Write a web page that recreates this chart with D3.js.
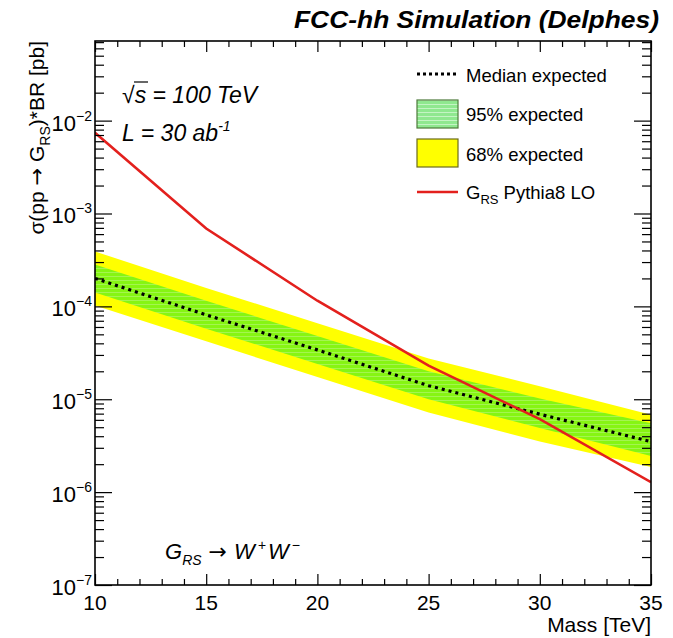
<!DOCTYPE html>
<html>
<head>
<script src="https://d3js.org/d3.v7.min.js"></script>
<style>
  body { margin: 0; background: #fff; }
  text { font-family: "Liberation Sans", Arial, sans-serif; fill: #000; }
</style>
</head>
<body>
<div id="chartContainer"></div>
<script type="text/javascript">
// data (mass in TeV, cross section in pb)
var mass = [10, 15, 20, 25, 30, 35];
var median = [2.0e-4, 8.1e-5, 3.4e-5, 1.4e-5, 6.9e-6, 3.5e-6];
var greenHi = [2.82e-4, 1.15e-4, 4.79e-5, 2.0e-5, 1.02e-5, 5.5e-6];
var greenLo = [1.41e-4, 5.75e-5, 2.40e-5, 1.0e-5, 4.9e-6, 2.45e-6];
var yellowHi = [3.9e-4, 1.58e-4, 6.6e-5, 2.75e-5, 1.38e-5, 6.8e-6];
var yellowLo = [1.02e-4, 4.2e-5, 1.74e-5, 7.2e-6, 3.5e-6, 1.86e-6];
var theory = [7.4e-3, 6.9e-4, 1.15e-4, 2.3e-5, 6.1e-6, 1.28e-6];
var xMajor = [10, 15, 20, 25, 30, 35];
var yExp = [-7, -6, -5, -4, -3, -2];

var W = 673, H = 638;
var pLeft = 95, pRight = 651, pTop = 41, pBottom = 585;

var svg = d3.select("#chartContainer").append("svg")
    .attr("width", W).attr("height", H);

var x = d3.scaleLinear().domain([10, 35]).range([pLeft, pRight]);
var y = d3.scaleLog().domain([1e-7, 0.072]).range([pBottom, pTop]);

// hatch pattern for the inner band
var defs = svg.append("defs");
var pat = defs.append("pattern").attr("id", "hatch")
    .attr("patternUnits", "userSpaceOnUse").attr("width", 6).attr("height", 4);
pat.append("rect").attr("width", 6).attr("height", 4).attr("fill", "#86f513");
pat.append("rect").attr("y", 0).attr("width", 6).attr("height", 1).attr("fill", "#a4f550");
var pat2 = defs.append("pattern").attr("id", "hatchLeg")
    .attr("patternUnits", "userSpaceOnUse").attr("width", 6).attr("height", 4);
pat2.append("rect").attr("width", 6).attr("height", 4).attr("fill", "#8fe88f");
pat2.append("rect").attr("width", 6).attr("height", 1).attr("fill", "#c4f4c4");

defs.append("clipPath").attr("id", "clip").append("rect")
    .attr("x", pLeft).attr("y", pTop).attr("width", pRight - pLeft).attr("height", pBottom - pTop);

var rows = mass.map(function (m, i) {
  return { m: m, med: median[i], gh: greenHi[i], gl: greenLo[i], yh: yellowHi[i], yl: yellowLo[i], th: theory[i] };
});

var plot = svg.append("g").attr("clip-path", "url(#clip)");

plot.append("path").datum(rows)
    .attr("fill", "#ffff00")
    .attr("d", d3.area().x(function (d) { return x(d.m); })
      .y0(function (d) { return y(d.yl); }).y1(function (d) { return y(d.yh); }));
plot.append("path").datum(rows)
    .attr("fill", "url(#hatch)")
    .attr("d", d3.area().x(function (d) { return x(d.m); })
      .y0(function (d) { return y(d.gl); }).y1(function (d) { return y(d.gh); }));
plot.append("path").datum(rows)
    .attr("fill", "none").attr("stroke", "#000").attr("stroke-width", 3.2)
    .attr("stroke-dasharray", "3,4")
    .attr("d", d3.line().x(function (d) { return x(d.m); }).y(function (d) { return y(d.med); }));
plot.append("path").datum(rows)
    .attr("fill", "none").attr("stroke", "#e3201d").attr("stroke-width", 2.6)
    .attr("d", d3.line().x(function (d) { return x(d.m); }).y(function (d) { return y(d.th); }));

// ticks
var xMinor = d3.range(10, 36, 1).filter(function (v) { return v % 5 !== 0; });
var yMinor = [];
yExp.forEach(function (e) {
  for (var k = 2; k <= 9; k++) {
    var v = k * Math.pow(10, e);
    if (v <= 0.072) yMinor.push(v);
  }
});
var yMajVals = yExp.map(function (e) { return Math.pow(10, e); });

function tickAxis(axis, vals, size, tr) {
  var g = svg.append("g").attr("transform", tr)
      .call(axis.tickValues(vals).tickSizeInner(size).tickSizeOuter(0).tickFormat(""));
  g.select(".domain").remove();
  g.selectAll("line").attr("stroke", "#000").attr("stroke-width", 1.2);
  return g;
}
tickAxis(d3.axisBottom(x), xMajor, -11, "translate(0," + pBottom + ")");
tickAxis(d3.axisBottom(x), xMinor, -6, "translate(0," + pBottom + ")");
tickAxis(d3.axisTop(x), xMajor, -11, "translate(0," + pTop + ")");
tickAxis(d3.axisTop(x), xMinor, -6, "translate(0," + pTop + ")");
tickAxis(d3.axisLeft(y), yMajVals, -17, "translate(" + pLeft + ",0)");
tickAxis(d3.axisLeft(y), yMinor, -9, "translate(" + pLeft + ",0)");
tickAxis(d3.axisRight(y), yMajVals, -17, "translate(" + pRight + ",0)");
tickAxis(d3.axisRight(y), yMinor, -9, "translate(" + pRight + ",0)");

// frame
svg.append("rect").attr("x", pLeft).attr("y", pTop)
    .attr("width", pRight - pLeft).attr("height", pBottom - pTop)
    .attr("fill", "none").attr("stroke", "#000").attr("stroke-width", 1.6);

// tick labels
xMajor.forEach(function (v) {
  svg.append("text").attr("x", x(v)).attr("y", pBottom + 25)
      .attr("text-anchor", "middle").style("font-size", "21px").text(v);
});
yExp.forEach(function (e) {
  var t = svg.append("text").attr("x", pLeft - 3).attr("y", y(Math.pow(10, e)) + 10)
      .attr("text-anchor", "end").style("font-size", "22px");
  t.append("tspan").text("10");
  t.append("tspan").attr("dy", -10).style("font-size", "14px").text("\u2212" + (-e));
});

// axis titles
svg.append("text").attr("x", pRight).attr("y", 632).attr("text-anchor", "end")
    .style("font-size", "21px").text("Mass [TeV]");
var yt = svg.append("text").attr("transform", "translate(44," + pTop + ") rotate(-90)")
    .attr("text-anchor", "end").style("font-size", "21px");
yt.append("tspan").text("\u03c3(pp ");
yt.append("tspan").style("font-family", "DejaVu Sans").text("\u2192");
yt.append("tspan").text(" G");
yt.append("tspan").attr("dy", 6).style("font-size", "14px").text("RS");
yt.append("tspan").attr("dy", -6).text(")*BR [pb]");

// title
svg.append("text").attr("x", 659).attr("y", 28).attr("text-anchor", "end")
    .style("font-size", "23px").style("font-weight", "bold").style("font-style", "italic")
    .attr("textLength", 365).attr("lengthAdjust", "spacingAndGlyphs")
    .text("FCC-hh Simulation (Delphes)");

// annotations
var s1 = svg.append("text").attr("x", 122).attr("y", 103)
    .style("font-size", "23px").style("font-style", "italic");
s1.append("tspan").style("font-style", "normal").text("\u221a");
s1.append("tspan").text("s");
s1.append("tspan").text(" = 100 TeV");
svg.append("line").attr("x1", 134).attr("x2", 148).attr("y1", 82).attr("y2", 82)
    .attr("stroke", "#000").attr("stroke-width", 1.2);
var s2 = svg.append("text").attr("x", 122).attr("y", 141)
    .style("font-size", "23px").style("font-style", "italic");
s2.append("tspan").text("L = 30 ab");
s2.append("tspan").attr("dy", -10).style("font-size", "14px").text("-1");
var s3 = svg.append("text").attr("x", 165).attr("y", 559)
    .style("font-size", "22px").style("font-style", "italic");
s3.append("tspan").text("G");
s3.append("tspan").attr("dy", 6).style("font-size", "14px").text("RS");
s3.append("tspan").attr("dy", -6).style("font-style", "normal").style("font-family", "DejaVu Sans").text(" \u2192 ");
s3.append("tspan").text("W");
s3.append("tspan").attr("dy", -9).attr("dx", 3).style("font-size", "14px").text("+");
s3.append("tspan").attr("dy", 9).attr("dx", 2).text("W");
s3.append("tspan").attr("dy", -9).attr("dx", 3).style("font-size", "14px").text("\u2212");

// legend
var lx = 417, lw = 41, tx = 466;
svg.append("line").attr("x1", lx).attr("x2", lx + lw).attr("y1", 74).attr("y2", 74)
    .attr("stroke", "#000").attr("stroke-width", 3).attr("stroke-dasharray", "3,3");
svg.append("text").attr("x", tx).attr("y", 82).style("font-size", "18.5px").text("Median expected");
svg.append("rect").attr("x", lx).attr("y", 100).attr("width", lw).attr("height", 28)
    .attr("fill", "url(#hatchLeg)").attr("stroke", "#4d7a3a").attr("stroke-width", 1.2);
svg.append("text").attr("x", tx).attr("y", 121).style("font-size", "18.5px").text("95% expected");
svg.append("rect").attr("x", lx).attr("y", 139).attr("width", lw).attr("height", 28)
    .attr("fill", "#ffff00").attr("stroke", "#6b6b1a").attr("stroke-width", 1.2);
svg.append("text").attr("x", tx).attr("y", 161).style("font-size", "18.5px").text("68% expected");
svg.append("line").attr("x1", lx).attr("x2", lx + lw).attr("y1", 192).attr("y2", 192)
    .attr("stroke", "#e3201d").attr("stroke-width", 2.6);
var lg = svg.append("text").attr("x", tx).attr("y", 199).style("font-size", "18.5px");
lg.append("tspan").text("G");
lg.append("tspan").attr("dy", 5).style("font-size", "13px").text("RS");
lg.append("tspan").attr("dy", -5).text(" Pythia8 LO");
</script>
</body>
</html>
